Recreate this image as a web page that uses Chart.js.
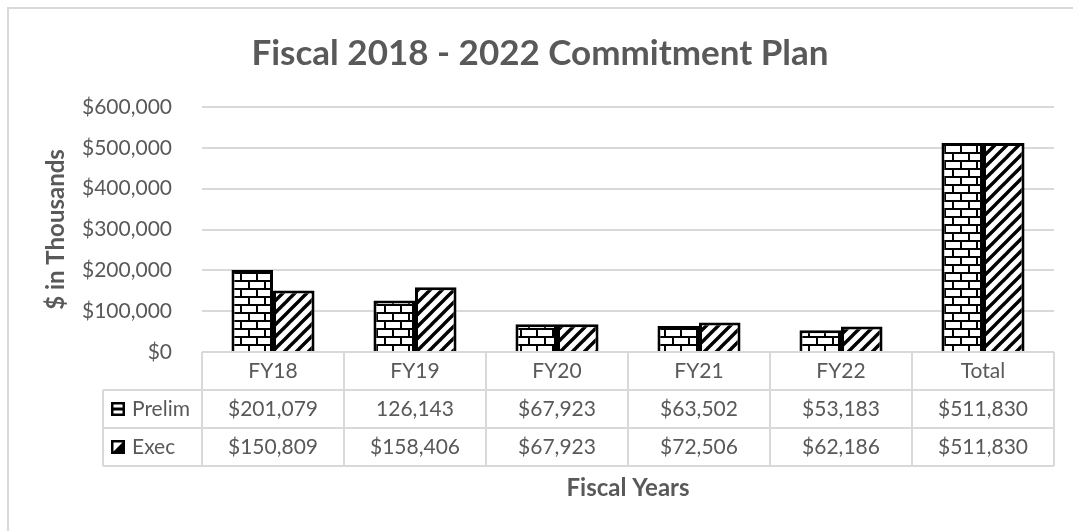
<!DOCTYPE html>
<html>
<head>
<meta charset="utf-8">
<script src="https://cdn.jsdelivr.net/npm/chart.js@4/dist/chart.umd.min.js"></script>
<style>
  html, body { margin: 0; padding: 0; background: #fff; }
  canvas { display: block; }
</style>
</head>
<body>
<canvas id="c" width="1073" height="531"></canvas>
<script>
(function () {
    'use strict';

    // Data ($ in thousands).
    var categories   = ['FY18', 'FY19', 'FY20', 'FY21', 'FY22', 'Total'];
    var prelimValues = [201079, 126143, 67923, 63502, 53183, 511830];
    var execValues   = [150809, 158406, 67923, 72506, 62186, 511830];
    // Currency prefix as printed in the data table (FY19 Prelim has none).
    var prelimPrefix = ['$', '', '$', '$', '$', '$'];
    var execPrefix   = ['$', '$', '$', '$', '$', '$'];
    var seriesNames  = ['Prelim', 'Exec'];
    var yTicks       = [0, 100000, 200000, 300000, 400000, 500000, 600000];

    var TEXT  = '#595959';
    var GRID  = '#d9d9d9';
    var FONT  = 'Lato, "Open Sans", sans-serif';

    function money(v, prefix) {
        return (prefix === undefined ? '$' : prefix) + v.toLocaleString('en-US');
    }

    function tile(size, draw) {
        var c = document.createElement('canvas');
        c.width = size[0];
        c.height = size[1];
        var g = c.getContext('2d');
        g.fillStyle = '#fff';
        g.fillRect(0, 0, size[0], size[1]);
        g.fillStyle = '#000';
        g.strokeStyle = '#000';
        draw(g);
        return document.createElement('canvas').getContext('2d').createPattern(c, 'repeat');
    }

    // Brick: 16 wide bricks, 8 px courses, half offset.
    var brick = tile([16, 16], function (g) {
        g.fillRect(0, 0, 16, 2);
        g.fillRect(0, 8, 16, 2);
        g.fillRect(0, 0, 2, 8);
        g.fillRect(8, 8, 2, 8);
    });

    // Wide upward diagonal.
    var diag = tile([12, 12], function (g) {
        g.lineWidth = 3.4;
        g.beginPath();
        g.moveTo(0, 12); g.lineTo(12, 0);
        g.moveTo(-2, 2); g.lineTo(2, -2);
        g.moveTo(10, 14); g.lineTo(14, 10);
        g.stroke();
    });

    var frame = {
        id: 'frame',
        beforeDraw: function (chart) {
            var ctx = chart.ctx;
            ctx.save();
            ctx.fillStyle = '#fff';
            ctx.fillRect(0, 0, chart.width, chart.height);
            ctx.strokeStyle = GRID;
            ctx.lineWidth = 2;
            ctx.strokeRect(8, 8, 1070, 600);
            ctx.restore();
        },
        afterDraw: function (chart) {
            var ctx = chart.ctx;
            var area = chart.chartArea;
            var xs = chart.scales.x;
            var colW = (area.right - area.left) / categories.length;
            var rowTop = [area.bottom, 390, 428, 466];
            var labelLeft = 103;

            ctx.save();
            // Title
            ctx.fillStyle = TEXT;
            ctx.textAlign = 'center';
            ctx.textBaseline = 'middle';
            ctx.font = 'bold 35px ' + FONT;
            ctx.fillText('Fiscal 2018 - 2022 Commitment Plan', 540, 54);

            // Axis titles
            ctx.font = 'bold 24px ' + FONT;
            ctx.fillText('Fiscal Years', (area.left + area.right) / 2, 488);
            ctx.save();
            ctx.translate(56, (area.top + area.bottom) / 2);
            ctx.rotate(-Math.PI / 2);
            ctx.fillText('$ in Thousands', 0, 0);
            ctx.restore();

            // Data table grid
            ctx.strokeStyle = GRID;
            ctx.lineWidth = 2;
            ctx.beginPath();
            ctx.moveTo(area.left, rowTop[0]); ctx.lineTo(area.right, rowTop[0]);
            for (var r = 1; r < rowTop.length; r++) {
                ctx.moveTo(labelLeft, rowTop[r]); ctx.lineTo(area.right, rowTop[r]);
            }
            ctx.moveTo(labelLeft, rowTop[1]); ctx.lineTo(labelLeft, rowTop[3]);
            for (var i = 0; i <= categories.length; i++) {
                var x = area.left + i * colW;
                ctx.moveTo(x, rowTop[0]); ctx.lineTo(x, rowTop[3]);
            }
            ctx.stroke();

            // Table text
            ctx.font = '21px ' + FONT;
            ctx.fillStyle = TEXT;
            ctx.textAlign = 'center';
            categories.forEach(function (cat, k) {
                var cx = xs.getPixelForValue(k);
                ctx.fillText(cat, cx, (rowTop[0] + rowTop[1]) / 2);
                ctx.fillText(money(prelimValues[k], prelimPrefix[k]), cx, (rowTop[1] + rowTop[2]) / 2);
                ctx.fillText(money(execValues[k], execPrefix[k]), cx, (rowTop[2] + rowTop[3]) / 2);
            });

            // Legend keys in the table
            ctx.textAlign = 'left';
            ctx.fillText(seriesNames[0], 132, (rowTop[1] + rowTop[2]) / 2);
            ctx.fillText(seriesNames[1], 132, (rowTop[2] + rowTop[3]) / 2);

            var ky = (rowTop[1] + rowTop[2]) / 2 - 7;
            ctx.fillStyle = '#000';
            ctx.fillRect(111, ky, 14, 14);
            ctx.fillStyle = '#fff';
            ctx.fillRect(113.5, ky + 2.5, 9, 3);
            ctx.fillRect(113.5, ky + 8.5, 9, 3);

            ky = (rowTop[2] + rowTop[3]) / 2 - 7;
            ctx.fillStyle = '#000';
            ctx.fillRect(111, ky, 14, 14);
            ctx.fillStyle = '#fff';
            ctx.beginPath();
            ctx.moveTo(113.5, ky + 11.5);
            ctx.lineTo(122.5, ky + 2.5);
            ctx.lineTo(113.5, ky + 2.5);
            ctx.closePath();
            ctx.fill();
            ctx.restore();
        }
    };

    new Chart(document.getElementById('c'), {
        type: 'bar',
        data: {
            labels: categories,
            datasets: [{
                label: seriesNames[0],
                data: prelimValues,
                backgroundColor: brick,
                borderColor: '#000',
                borderWidth: 3,
                categoryPercentage: 0.585,
                barPercentage: 1
            }, {
                label: seriesNames[1],
                data: execValues,
                backgroundColor: diag,
                borderColor: '#000',
                borderWidth: 3,
                categoryPercentage: 0.585,
                barPercentage: 1
            }]
        },
        options: {
            responsive: false,
            animation: false,
            devicePixelRatio: 1,
            layout: { padding: { top: 107, right: 19, bottom: 179, left: 0 } },
            plugins: {
                legend: { display: false },
                title: { display: false },
                tooltip: { enabled: false }
            },
            scales: {
                x: { display: false },
                y: {
                    min: yTicks[0],
                    max: yTicks[yTicks.length - 1],
                    afterBuildTicks: function (s) {
                        s.ticks = yTicks.map(function (v) { return { value: v }; });
                    },
                    afterFit: function (s) { s.width = 202; },
                    border: { display: false },
                    grid: { color: GRID, lineWidth: 2, drawTicks: false },
                    ticks: {
                        padding: 30,
                        color: TEXT,
                        font: { family: FONT, size: 21 },
                        callback: function (v) { return money(v); }
                    }
                }
            }
        },
        plugins: [frame]
    });
}());
</script>
</body>
</html>
